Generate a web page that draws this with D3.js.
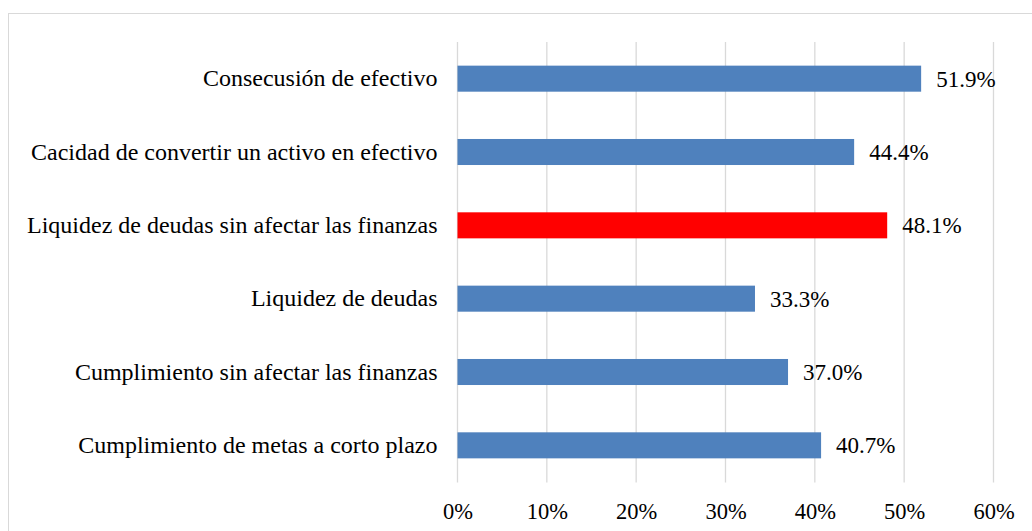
<!DOCTYPE html>
<html><head><meta charset="utf-8">
<script src="https://cdn.jsdelivr.net/npm/d3@7"></script>
<style>body{margin:0;background:#fff}svg{display:block}text{font-family:"Liberation Serif",serif;fill:#000}</style>
</head><body><svg id="c" width="1032" height="531"></svg>
<script>
const categories = ["Consecusión de efectivo","Cacidad de convertir un activo en efectivo","Liquidez de deudas sin afectar las finanzas","Liquidez de deudas","Cumplimiento sin afectar las finanzas","Cumplimiento de metas a corto plazo"];
const values = [51.9, 44.4, 48.1, 33.3, 37.0, 40.7];
const highlight = [false, false, true, false, false, false];
const ticks = [0,10,20,30,40,50,60];

const svg = d3.select("#c");
svg.append("rect").attr("x",8.5).attr("y",13.5).attr("width",1030).attr("height",530).attr("fill","#fff").attr("stroke","#d9d9d9");
const x = d3.scaleLinear().domain([0,60]).range([457.5,993.5]);
const y = d3.scaleBand().domain(categories).range([42,482]).paddingInner(0.645).paddingOuter(0.3225);
svg.append("g").selectAll("line").data(ticks).join("line")
  .attr("x1",d=>x(d)).attr("x2",d=>x(d)).attr("y1",42).attr("y2",482.5)
  .attr("stroke","#d9d9d9").attr("stroke-width",1.3);
const xa = d3.axisBottom(x).tickValues(ticks).tickFormat(d=>d+"%").tickSize(0).tickPadding(0);
const gx = svg.append("g").attr("transform","translate(0,501)").call(xa);
gx.select(".domain").remove();
gx.selectAll("text").attr("font-size",22.5).attr("dy","0.8em").attr("font-family","Liberation Serif");
svg.append("g").selectAll("rect").data(values).join("rect")
  .attr("x",x(0)).attr("y",(d,i)=>y(categories[i])).attr("height",y.bandwidth())
  .attr("width",d=>x(d)-x(0)).attr("fill",(d,i)=>highlight[i]?"#ff0000":"#4f81bd");
svg.append("g").selectAll("text").data(values).join("text")
  .attr("x",d=>x(d)+15).attr("y",(d,i)=>y(categories[i])+y.bandwidth()/2).attr("dy","0.35em")
  .attr("font-size",23).attr("font-family","Liberation Serif").text(d=>d.toFixed(1)+"%");
const ya = d3.axisLeft(y).tickSize(0).tickPadding(20);
const gy = svg.append("g").attr("transform","translate(457.5,0)").call(ya);
gy.select(".domain").remove();
gy.selectAll("text").attr("font-size",24).attr("font-family","Liberation Serif");
</script></body></html>
